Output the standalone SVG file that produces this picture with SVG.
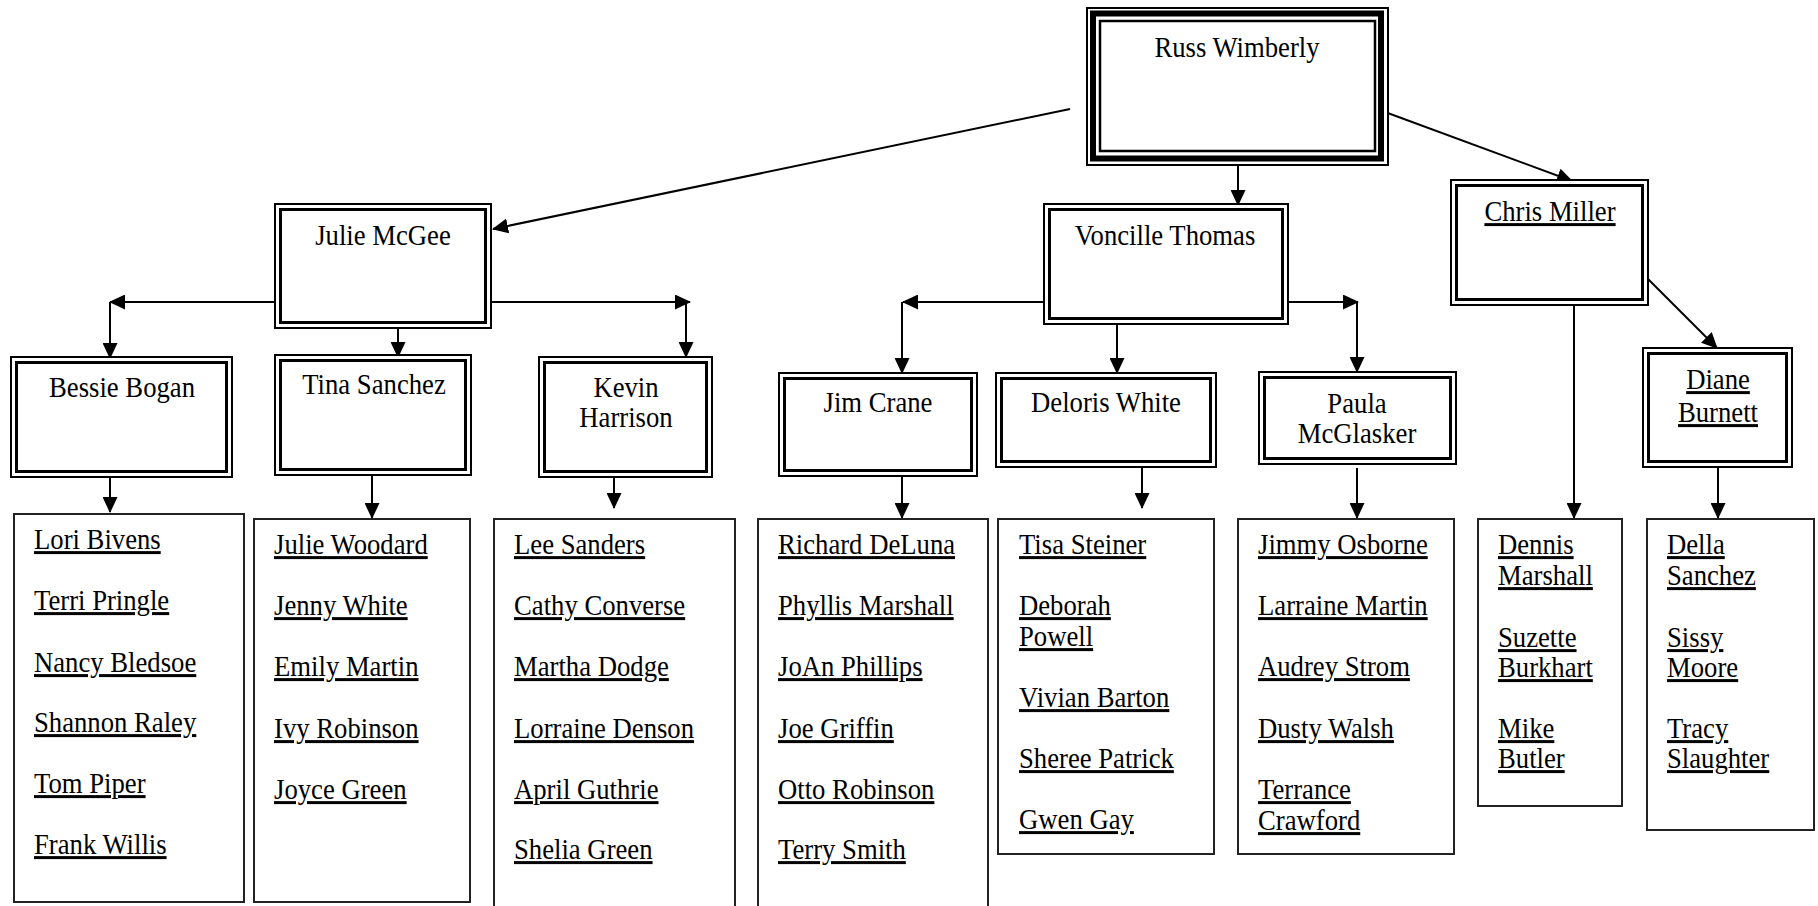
<svg xmlns="http://www.w3.org/2000/svg" width="1818" height="906" viewBox="0 0 1818 906">
<style>
.o{fill:#fff;stroke:#000;stroke-width:2}
.i{fill:none;stroke:#000;stroke-width:3}
.lst{fill:#fff;stroke:#222;stroke-width:2}
.t{font-family:"Liberation Serif","Times New Roman",serif;font-size:26.7px;fill:#000}
.c{text-anchor:middle}
.u{text-decoration:underline}
.ln{stroke:#000;stroke-width:2;fill:none}
.a{marker-end:url(#ah)}
</style>
<defs>
<marker id="ah" markerUnits="userSpaceOnUse" markerWidth="16" markerHeight="15" viewBox="0 0 16 15" refX="15" refY="7.5" orient="auto">
<path d="M0,0 L16,7.5 L0,15 z" fill="#000"/>
</marker>
</defs>
<rect width="1818" height="906" fill="#fff"/>

<g id="connectors">
<line class="ln a" x1="1070" y1="109" x2="493" y2="229"/>
<line class="ln a" x1="1238" y1="166" x2="1238" y2="205"/>
<line class="ln a" x1="1385" y1="112" x2="1572" y2="181"/>
<line class="ln a" x1="274" y1="302" x2="110" y2="302"/>
<line class="ln a" x1="110" y1="302" x2="110" y2="358"/>
<line class="ln a" x1="492" y1="302" x2="690" y2="302"/>
<line class="ln a" x1="686" y1="302" x2="686" y2="357"/>
<line class="ln a" x1="398" y1="329" x2="398" y2="357"/>
<line class="ln a" x1="110" y1="478" x2="110" y2="512"/>
<line class="ln a" x1="372" y1="476" x2="372" y2="518"/>
<line class="ln a" x1="614" y1="472" x2="614" y2="508"/>
<line class="ln a" x1="1043" y1="302" x2="903" y2="302"/>
<line class="ln a" x1="902" y1="302" x2="902" y2="373"/>
<line class="ln a" x1="1117" y1="325" x2="1117" y2="373"/>
<line class="ln a" x1="1289" y1="302" x2="1358" y2="302"/>
<line class="ln a" x1="1357" y1="302" x2="1357" y2="372"/>
<line class="ln a" x1="902" y1="472" x2="902" y2="518"/>
<line class="ln a" x1="1142" y1="468" x2="1142" y2="508"/>
<line class="ln a" x1="1357" y1="468" x2="1357" y2="518"/>
<line class="ln a" x1="1574" y1="304" x2="1574" y2="518"/>
<line class="ln a" x1="1647" y1="278" x2="1717" y2="348"/>
<line class="ln a" x1="1718" y1="468" x2="1718" y2="518"/>
</g>

<g id="russ">
<rect x="1087" y="8" width="301" height="157" fill="#fff" stroke="#000" stroke-width="2"/>
<rect x="1093" y="13.5" width="288" height="145" fill="none" stroke="#000" stroke-width="6"/>
<rect x="1100" y="21" width="275" height="130" fill="none" stroke="#000" stroke-width="2.5"/>
<text class="t c" transform="translate(1237,57) scale(1,1.12)">Russ Wimberly</text>
</g>

<g id="julie">
<rect class="o" x="275" y="204" width="216" height="124"/>
<rect class="i" x="280.5" y="209.5" width="205" height="113"/>
<text class="t c" transform="translate(383,245) scale(1,1.12)">Julie McGee</text>
</g>

<g id="voncille">
<rect class="o" x="1044" y="204" width="244" height="120"/>
<rect class="i" x="1049.5" y="209.5" width="233" height="109"/>
<text class="t c" transform="translate(1165,245) scale(1,1.12)">Voncille Thomas</text>
</g>

<g id="chris">
<rect class="o" x="1451" y="180" width="197" height="125"/>
<rect class="i" x="1456.5" y="185.5" width="186" height="114"/>
<text class="t c u" transform="translate(1550,221) scale(1,1.12)">Chris Miller</text>
</g>

<g id="bessie">
<rect class="o" x="11" y="357" width="221" height="120"/>
<rect class="i" x="16.5" y="362.5" width="210" height="109"/>
<text class="t c" transform="translate(122,397) scale(1,1.12)">Bessie Bogan</text>
</g>

<g id="tina">
<rect class="o" x="275" y="355" width="196" height="120"/>
<rect class="i" x="280.5" y="360.5" width="185" height="109"/>
<text class="t c" transform="translate(374,394) scale(1,1.12)">Tina Sanchez</text>
</g>

<g id="kevin">
<rect class="o" x="539" y="357" width="173" height="120"/>
<rect class="i" x="544.5" y="362.5" width="162" height="109"/>
<text class="t c" transform="translate(626,397) scale(1,1.12)">Kevin</text>
<text class="t c" transform="translate(626,427) scale(1,1.12)">Harrison</text>
</g>

<g id="jim">
<rect class="o" x="779" y="373" width="198" height="103"/>
<rect class="i" x="784.5" y="378.5" width="187" height="92"/>
<text class="t c" transform="translate(878,412) scale(1,1.12)">Jim Crane</text>
</g>

<g id="deloris">
<rect class="o" x="996" y="373" width="220" height="94"/>
<rect class="i" x="1001.5" y="378.5" width="209" height="83"/>
<text class="t c" transform="translate(1106,412) scale(1,1.12)">Deloris White</text>
</g>

<g id="paula">
<rect class="o" x="1259" y="372" width="197" height="92"/>
<rect class="i" x="1264.5" y="377.5" width="186" height="81"/>
<text class="t c" transform="translate(1357,413) scale(1,1.12)">Paula</text>
<text class="t c" transform="translate(1357,443) scale(1,1.12)">McGlasker</text>
</g>

<g id="diane">
<rect class="o" x="1643" y="348" width="149" height="119"/>
<rect class="i" x="1648.5" y="353.5" width="138" height="108"/>
<text class="t c u" transform="translate(1718,389) scale(1,1.12)">Diane</text>
<text class="t c u" transform="translate(1718,422) scale(1,1.12)">Burnett</text>
</g>

<g id="list-bessie">
<rect class="lst" x="14" y="514" width="230" height="388"/>
<text class="t u" transform="translate(34,549) scale(1,1.12)">Lori Bivens</text>
<text class="t u" transform="translate(34,610) scale(1,1.12)">Terri Pringle</text>
<text class="t u" transform="translate(34,672) scale(1,1.12)">Nancy Bledsoe</text>
<text class="t u" transform="translate(34,732) scale(1,1.12)">Shannon Raley</text>
<text class="t u" transform="translate(34,793) scale(1,1.12)">Tom Piper</text>
<text class="t u" transform="translate(34,854) scale(1,1.12)">Frank Willis</text>
</g>

<g id="list-tina">
<rect class="lst" x="254" y="519" width="216" height="383"/>
<text class="t u" transform="translate(274,554) scale(1,1.12)">Julie Woodard</text>
<text class="t u" transform="translate(274,615) scale(1,1.12)">Jenny White</text>
<text class="t u" transform="translate(274,676) scale(1,1.12)">Emily Martin</text>
<text class="t u" transform="translate(274,738) scale(1,1.12)">Ivy Robinson</text>
<text class="t u" transform="translate(274,799) scale(1,1.12)">Joyce Green</text>
</g>

<g id="list-kevin">
<rect class="lst" x="494" y="519" width="241" height="400"/>
<text class="t u" transform="translate(514,554) scale(1,1.12)">Lee Sanders</text>
<text class="t u" transform="translate(514,615) scale(1,1.12)">Cathy Converse</text>
<text class="t u" transform="translate(514,676) scale(1,1.12)">Martha Dodge</text>
<text class="t u" transform="translate(514,738) scale(1,1.12)">Lorraine Denson</text>
<text class="t u" transform="translate(514,799) scale(1,1.12)">April Guthrie</text>
<text class="t u" transform="translate(514,859) scale(1,1.12)">Shelia Green</text>
</g>

<g id="list-jim">
<rect class="lst" x="758" y="519" width="230" height="400"/>
<text class="t u" transform="translate(778,554) scale(1,1.12)">Richard DeLuna</text>
<text class="t u" transform="translate(778,615) scale(1,1.12)">Phyllis Marshall</text>
<text class="t u" transform="translate(778,676) scale(1,1.12)">JoAn Phillips</text>
<text class="t u" transform="translate(778,738) scale(1,1.12)">Joe Griffin</text>
<text class="t u" transform="translate(778,799) scale(1,1.12)">Otto Robinson</text>
<text class="t u" transform="translate(778,859) scale(1,1.12)">Terry Smith</text>
</g>

<g id="list-deloris">
<rect class="lst" x="998" y="519" width="216" height="335"/>
<text class="t u" transform="translate(1019,554) scale(1,1.12)">Tisa Steiner</text>
<text class="t u" transform="translate(1019,615) scale(1,1.12)">Deborah</text>
<text class="t u" transform="translate(1019,646) scale(1,1.12)">Powell</text>
<text class="t u" transform="translate(1019,707) scale(1,1.12)">Vivian Barton</text>
<text class="t u" transform="translate(1019,768) scale(1,1.12)">Sheree Patrick</text>
<text class="t u" transform="translate(1019,829) scale(1,1.12)">Gwen Gay</text>
</g>

<g id="list-paula">
<rect class="lst" x="1238" y="519" width="216" height="335"/>
<text class="t u" transform="translate(1258,554) scale(1,1.12)">Jimmy Osborne</text>
<text class="t u" transform="translate(1258,615) scale(1,1.12)">Larraine Martin</text>
<text class="t u" transform="translate(1258,676) scale(1,1.12)">Audrey Strom</text>
<text class="t u" transform="translate(1258,738) scale(1,1.12)">Dusty Walsh</text>
<text class="t u" transform="translate(1258,799) scale(1,1.12)">Terrance</text>
<text class="t u" transform="translate(1258,830) scale(1,1.12)">Crawford</text>
</g>

<g id="list-chris">
<rect class="lst" x="1478" y="519" width="144" height="287"/>
<text class="t u" transform="translate(1498,554) scale(1,1.12)">Dennis</text>
<text class="t u" transform="translate(1498,585) scale(1,1.12)">Marshall</text>
<text class="t u" transform="translate(1498,647) scale(1,1.12)">Suzette</text>
<text class="t u" transform="translate(1498,677) scale(1,1.12)">Burkhart</text>
<text class="t u" transform="translate(1498,738) scale(1,1.12)">Mike</text>
<text class="t u" transform="translate(1498,768) scale(1,1.12)">Butler</text>
</g>

<g id="list-diane">
<rect class="lst" x="1647" y="519" width="167" height="311"/>
<text class="t u" transform="translate(1667,554) scale(1,1.12)">Della</text>
<text class="t u" transform="translate(1667,585) scale(1,1.12)">Sanchez</text>
<text class="t u" transform="translate(1667,647) scale(1,1.12)">Sissy</text>
<text class="t u" transform="translate(1667,677) scale(1,1.12)">Moore</text>
<text class="t u" transform="translate(1667,738) scale(1,1.12)">Tracy</text>
<text class="t u" transform="translate(1667,768) scale(1,1.12)">Slaughter</text>
</g>
</svg>
